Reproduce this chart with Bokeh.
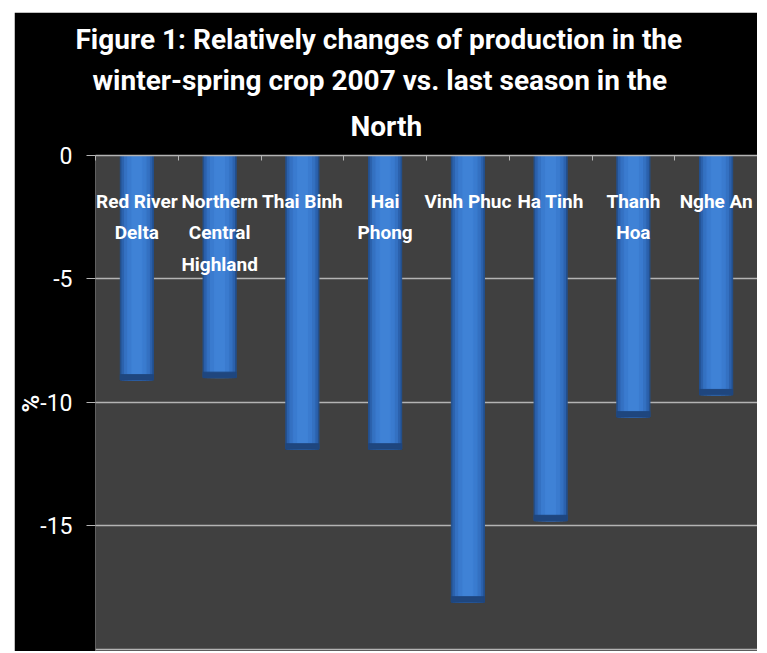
from bokeh.plotting import figure
from bokeh.models import Range1d, LinearAxis, FixedTicker, ColumnDataSource, Title
from bokeh.core.properties import value
from bokeh.embed import file_html
from bokeh.resources import INLINE

categories = ["Red River Delta", "Northern Central Highland", "Thai Binh", "Hai Phong",
              "Vinh Phuc", "Ha Tinh", "Thanh Hoa", "Nghe An"]
labels = ["Red River\nDelta", "Northern\nCentral\nHighland", "Thai Binh", "Hai\nPhong",
          "Vinh Phuc", "Ha Tinh", "Thanh\nHoa", "Nghe An"]
changes = [-9.1, -9.0, -11.9, -11.9, -18.1, -14.8, -10.6, -9.7]
y_ticks = [0, -5, -10, -15]
grid_ticks = [0, -5, -10, -15, -20]
title_lines = ["Figure 1: Relatively changes of production in the",
               "winter-spring crop 2007 vs. last season in the",
               "North"]

FONT = "Roboto"

n = len(categories)
slot_centers = [i + 0.5 for i in range(n)]
source = ColumnDataSource(dict(cat=categories, x=slot_centers, val=changes, lab=labels,
                               cap=[v + 0.22 for v in changes]))

p = figure(x_range=Range1d(0, n), y_range=Range1d(-20.1, 0),
           width=743, height=639, output_backend="svg", toolbar_location=None,
           x_axis_location=None, min_border_left=80, min_border_top=140,
           min_border_right=0, min_border_bottom=0,
           background_fill_color="#404040", border_fill_color="black",
           outline_line_color=None, title=title_lines[0], margin=(12, 0, 0, 14))

def style_title(t, standoff, offset):
    t.align = "left"
    t.offset = offset
    t.text_color = "white"
    t.text_font = FONT
    t.text_font_style = "bold"
    t.text_font_size = "28px"
    t.standoff = standoff

style_title(p.title, 16, -20)

# y axis
p.yaxis.ticker = FixedTicker(ticks=y_ticks)
p.yaxis.major_label_overrides = {t: str(t) for t in y_ticks}
p.yaxis.major_label_text_color = "white"
p.yaxis.major_label_text_font = FONT
p.yaxis.major_label_text_font_size = "23px"
p.yaxis.major_tick_out = 9
p.yaxis.major_tick_in = 0
p.yaxis.major_tick_line_color = "#b4b4b4"
p.yaxis.minor_tick_line_color = None
p.yaxis.axis_line_color = None
p.yaxis.major_label_standoff = 14
p.yaxis.axis_label = "%"
p.yaxis.axis_label_text_color = "white"
p.yaxis.axis_label_text_font = FONT
p.yaxis.axis_label_text_font_size = "24px"
p.yaxis.axis_label_text_font_style = "bold"
p.yaxis.axis_label_standoff = -8

p.ygrid.ticker = FixedTicker(ticks=grid_ticks)
p.ygrid.grid_line_color = "#b4b4b4"
p.ygrid.grid_line_width = 1.5
p.xgrid.grid_line_color = None

# category boundary ticks along the zero line
top_axis = LinearAxis(ticker=FixedTicker(ticks=list(range(n + 1))),
                      major_tick_in=5, major_tick_out=0, major_tick_line_color="#b4b4b4",
                      axis_line_color="#b4b4b4", axis_line_width=1.5,
                      minor_tick_line_color=None, major_label_standoff=0,
                      major_label_overrides={i: "" for i in range(n + 1)})
p.add_layout(top_axis, "above")

# remaining title lines, innermost first
for line, s, off in [(title_lines[2], 26, 255), (title_lines[1], -4, -3)]:
    t = Title(text=line)
    style_title(t, s, off)
    p.add_layout(t, "above")

# bars with a simple horizontal shading
layers = [(0.40, "#23508f"), (0.36, "#2c62ad"), (0.30, "#3471c2"),
          (0.22, "#3a7bcf"), (0.12, "#3f82d6")]
for w, c in layers:
    p.vbar(x="x", top=0, bottom="val", width=w, color=c, source=source)
p.vbar(x="x", top="cap", bottom="val", width=0.40, color="#1f467e", source=source)

# category labels inside the plot
p.text(x="x", y=0, text="lab", source=source, text_color="white",
       text_font=value(FONT), text_font_style="bold", text_font_size="19px",
       text_align="center", text_baseline="top", y_offset=34, text_line_height=1.38)

open("out.html", "w").write(file_html(p, INLINE))
